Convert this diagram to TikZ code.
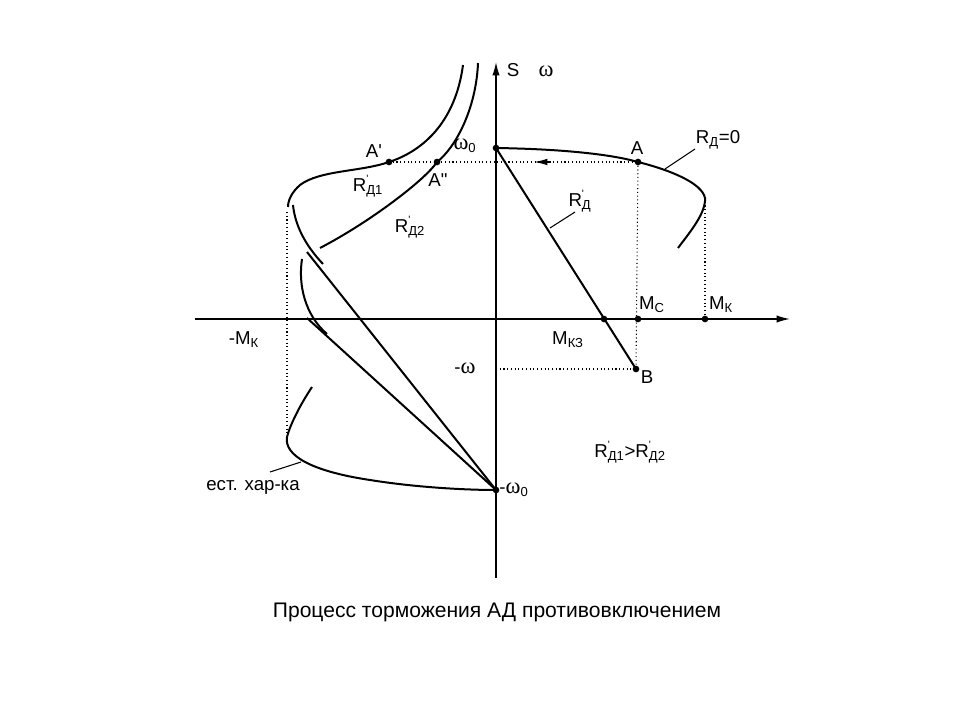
\documentclass[tikz,border=0pt]{standalone}
\usepackage{fontspec}
\newfontfamily\arial{Liberation Sans}
\newfontfamily\grk{Liberation Serif}
\usetikzlibrary{arrows.meta,positioning}
\newcommand{\om}{{\grk\fontsize{17}{18}\selectfont ω}}
\newcommand{\Rp}[1]{R\rlap{\raisebox{0.48em}{\fontsize{8}{8}\selectfont '}}\textsubscript{#1}}

\begin{document}
\begin{tikzpicture}[x=0.75pt,y=0.75pt,yscale=-1,xscale=1,
  curve/.style={line width=1.5pt},
  axis/.style={line width=1.1pt,-{Latex[length=10pt,width=5.5pt]}},
  guide/.style={dotted,line width=0.8pt},
  dot/.style={circle,fill,inner sep=0pt,minimum size=5pt},
  lbl/.style={inner sep=0.75pt,font=\arial\fontsize{14}{16}\selectfont},
  lead/.style={line width=0.8pt}]
\useasboundingbox (0,0) rectangle (960,720);

%Axes
\coordinate (xl) at (195,319);
\coordinate (xr) at (790,319);
\coordinate (yb) at (496,578);
\coordinate (yt) at (496,62);
\draw[axis] (xl) -- (xr);
\draw[axis] (yb) -- (yt);

%Points
\node[dot] (w0) at (496,148) {};
\node[dot] (A) at (638,162) {};
\node[dot] (A1) at (389,162) {};
\node[dot] (A2) at (437,162) {};
\node[dot] (Mc) at (638,319) {};
\node[dot] (Mk) at (705,319) {};
\node[dot] (Mkz) at (604,319) {};
\node[dot] (B) at (636,369) {};
\node[dot] (mw0) at (496,490) {};
\coordinate (mw) at (496,369);
\coordinate (Kr) at (705,198);
\coordinate (Kl) at (287,212);
\coordinate (Kb) at (287,437);

%Dotted guides
\draw[guide] (A1.center) -- (A.center);
\draw[guide] (A.center) -- (B.center);
\draw[guide] (Kr) -- (Mk.center);
\draw[guide] (mw) -- (B.center);
\draw[guide] (Kl) -- (Kb);
\draw[line width=1pt,-{Latex[length=10pt,width=5pt]}] (550,162) -- (534,162);

%Natural characteristic, upper part
\draw[curve] (w0.center) .. controls (560,149) and (610,154) .. (A.center) .. controls (670,170) and (702,183) .. (Kr) .. controls (706,213) and (690,232) .. (678,248);
%Natural characteristic, lower part
\draw[curve] (312,387) .. controls (300,405) and (290,425) .. (Kb) .. controls (284,455) and (310,471) .. (370,480) .. controls (420,488) and (470,490) .. (mw0.center);

%Rd1 characteristic
\draw[curve] (463,65) .. controls (455,125) and (420,152) .. (A1.center) .. controls (360,172) and (320,170) .. (300,185) .. controls (292,192) and (288,200) .. (288,207);
\draw[curve] (293,205) .. controls (295,225) and (305,245) .. (323,264);
%Rd2 characteristic
\draw[curve] (478,63) .. controls (476,110) and (455,148) .. (A2.center) .. controls (425,180) and (370,222) .. (320,248);
\draw[curve] (302,259) .. controls (298,285) and (305,315) .. (327,334);

%Straight characteristics
\draw[curve] (w0.center) -- (B.center);
\draw[curve] (307,252) -- (mw0.center);
\draw[curve] (307,318) -- (mw0.center);

%Leaders
\draw[lead] (665,169) -- (695,149);
\draw[lead] (550,228) -- (575,212);
\draw[lead] (270,472) -- (301,462);

% Text Node
\node[lbl] (tS) at (513,70) {S};
\node[lbl] (tw) at (546,71) {\om};
\node[lbl] (tw0) at (465,146) {\om\textsubscript{0}};
\node[lbl] (tA1) at (374,151) {A'};
\node[lbl] (tA2) at (438,180) {A"};
\node[lbl] (tRd1) at (368,186) {\Rp{Д1}};
\node[lbl] (tRd2) at (410,227) {\Rp{Д2}};
\node[lbl] (tA) at (637,148) {A};
\node[lbl] (tR0) at (718,140) {R\textsubscript{Д}=0};
\node[lbl] (tRd) at (580,201) {\Rp{Д}};
\node[lbl] (tMc) at (652,305) {M\textsubscript{C}};
\node[lbl] (tMk) at (721,305) {M\textsubscript{К}};
\node[lbl] (tMkz) at (568,340) {M\textsubscript{КЗ}};
\node[lbl] (tB) at (647,377) {B};
\node[lbl] (tmw) at (465,368) {-\om};
\node[lbl] (tmMk) at (244,340) {-M\textsubscript{К}};
\node[lbl] (tmw0) at (514,490) {-\om\textsubscript{0}};
\node[lbl] (tcmp) at (630,452) {\Rp{Д1}>\Rp{Д2}};
\node[lbl] (test) at (253,487) {ест. хар-ка};
\node[inner sep=0.75pt,font=\arial\fontsize{15.8}{18}\selectfont] (cap) at (497,612) {Процесс торможения АД противовключением};

\end{tikzpicture}
\end{document}
